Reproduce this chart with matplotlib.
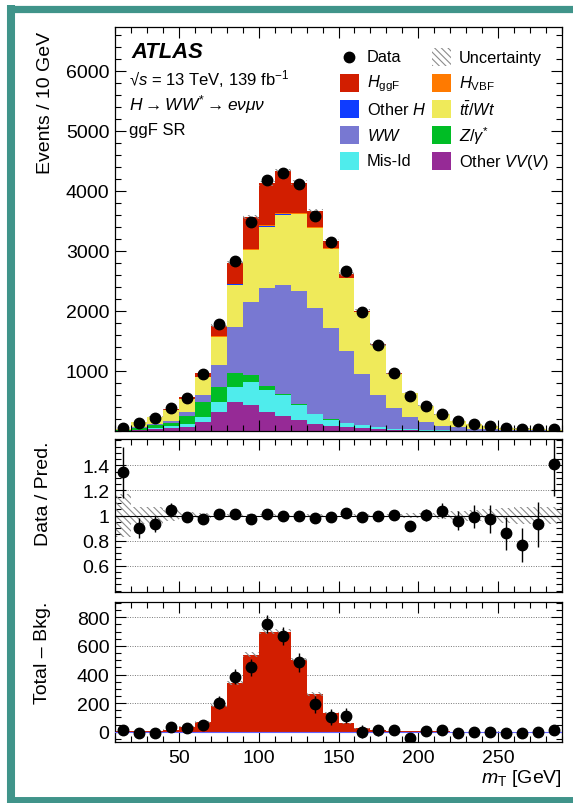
import numpy as np
import matplotlib
matplotlib.use('Agg')
import matplotlib.pyplot as plt
from matplotlib.ticker import MultipleLocator
from matplotlib.patches import Rectangle
from matplotlib.lines import Line2D

plt.rcParams['font.family'] = ['Liberation Sans', 'DejaVu Sans']
plt.rcParams['mathtext.fontset'] = 'custom'
plt.rcParams['mathtext.rm'] = 'Liberation Sans'
plt.rcParams['mathtext.it'] = 'Liberation Sans:italic'
plt.rcParams['mathtext.bf'] = 'Liberation Sans:bold'
plt.rcParams['hatch.linewidth'] = 0.8

# m_T binning, 10 GeV per bin
bin_edges = np.arange(10, 300, 10)

# expected yields per bin (stacked bottom -> top)
other_vv = [4, 10, 30, 44, 61, 156, 322, 478, 433, 322, 256, 189, 117, 89, 61, 42, 28, 18, 12, 8, 5, 4, 3, 2, 1, 1, 1, 1]
mis_id = [3, 10, 26, 34, 50, 83, 156, 261, 378, 367, 350, 244, 166, 100, 72, 58, 33, 22, 13, 7, 5, 2, 1, 1, 1, 1, 0, 0]
z_gamma = [11, 35, 44, 55, 145, 239, 250, 222, 122, 55, 11, 11, 7, 5, 3, 2, 1, 1, 1, 1, 0, 0, 0, 0, 0, 0, 0, 0]
ww = [4, 15, 22, 39, 66, 128, 372, 778, 1211, 1634, 1822, 1895, 1754, 1523, 1197, 854, 543, 344, 202, 140, 79, 55, 36, 22, 15, 12, 9, 7]
top = [8, 74, 106, 173, 203, 288, 467, 701, 866, 1022, 1161, 1271, 1336, 1313, 1212, 1019, 820, 565, 402, 259, 187, 109, 80, 53, 33, 28, 19, 14]
other_h = [0, 0, 1, 1, 1, 2, 4, 7, 10, 12, 12, 10, 8, 6, 4, 3, 2, 1, 1, 0, 0, 0, 0, 0, 0, 0, 0, 0]
h_vbf = [0, 0, 0, 1, 1, 2, 4, 7, 10, 14, 15, 13, 10, 7, 5, 3, 2, 1, 1, 0.5, 0, 0, 0, 0, 0, 0, 0, 0]
h_ggf = [2, 3, 6, 15, 35, 70, 181, 341, 538, 700, 700, 499, 264, 128, 58, 23, 12, 8, 4, 3, 2, 1, 1, 1, 0, 0, 0, 0]

data = [43, 132, 219, 378, 556, 943, 1779, 2838, 3482, 4180, 4296, 4118, 3589, 3143, 2665, 1980, 1440, 967, 585, 421, 289, 164, 120, 77, 43, 32, 27, 31]

# relative total uncertainty on the prediction, and abs. uncertainty on ggF
rel_unc = [0.17, 0.07, 0.065, 0.045, 0.025, 0.02, 0.015, 0.012, 0.01, 0.01, 0.01, 0.01, 0.01, 0.01, 0.012, 0.012, 0.015, 0.015, 0.02, 0.02, 0.025, 0.035, 0.045, 0.055, 0.06, 0.065, 0.07, 0.07]
ggf_unc = [0, 0, 1, 2, 3, 6, 10, 14, 16, 16, 16, 14, 11, 8, 5, 3, 2, 1, 1, 1, 0, 0, 0, 0, 0, 0, 0, 0]

main_yticks = [1000, 2000, 3000, 4000, 5000, 6000]
ratio_yticks = [0.6, 0.8, 1.0, 1.2, 1.4]
ratio_ylabels = ['0.6', '0.8', '1', '1.2', '1.4']
diff_yticks = [0, 200, 400, 600, 800]

c_vv, c_misid, c_z, c_ww = '#962a96', '#4fecec', '#00bd25', '#7878d2'
c_top, c_oh, c_vbf, c_ggf = '#efea5a', '#0f3cff', '#ff7a00', '#d21e00'
layers = [other_vv, mis_id, z_gamma, ww, top, other_h, h_vbf, h_ggf]
colors = [c_vv, c_misid, c_z, c_ww, c_top, c_oh, c_vbf, c_ggf]

data = np.array(data, dtype=float)
rel_unc = np.array(rel_unc)
ggf_unc = np.array(ggf_unc, dtype=float)
h_ggf_arr = np.array(h_ggf, dtype=float)
centers = bin_edges[:-1] + 5
hatch = '\\\\\\\\\\'
hatch_col = '#8c8c8c'

W, H = 573, 804
fig = plt.figure(figsize=(W / 100, H / 100), dpi=100)
ax_main = fig.add_axes([115 / W, 1 - 432 / H, 447 / W, 404 / H])
ax_ratio = fig.add_axes([115 / W, 1 - 593 / H, 447 / W, 153 / H])
ax_diff = fig.add_axes([115 / W, 1 - 743 / H, 447 / W, 140 / H])

# --- stacked prediction
base = np.zeros(len(data))
for vals, c in zip(layers, colors):
    vals = np.array(vals, dtype=float)
    ax_main.stairs(base + vals, bin_edges, baseline=base.copy(), fill=True, color=c, lw=0)
    base = base + vals
total = base

unc = rel_unc * total
ax_main.bar(centers, 2 * unc, bottom=total - unc, width=10, fill=False, hatch=hatch,
            edgecolor=hatch_col, lw=0, zorder=3)
ax_main.errorbar(centers, data, yerr=np.sqrt(data), fmt='o', color='k', ms=7.5,
                 elinewidth=1, capsize=0, zorder=5)
ax_main.set_ylim(0, 6730)
ax_main.set_yticks(main_yticks)
ax_main.yaxis.set_minor_locator(MultipleLocator(200))
ax_main.set_ylabel('Events / 10 GeV', fontsize=14, loc='top')
ax_main.yaxis.set_label_coords(-0.136, 0.99)

# --- data / prediction
ratio = data / total
ax_ratio.bar(centers, 2 * rel_unc, bottom=1 - rel_unc, width=10, fill=False, hatch=hatch,
             edgecolor=hatch_col, lw=0, zorder=2)
for y in [0.6, 0.8, 1.2, 1.4]:
    ax_ratio.axhline(y, color='#777777', ls=(0, (1, 1.5)), lw=0.7, zorder=1)
ax_ratio.axhline(1, color='k', lw=0.8, zorder=3)
ax_ratio.errorbar(centers, ratio, yerr=np.sqrt(data) / total, fmt='o', color='k', ms=7.5,
                  elinewidth=1, capsize=0, zorder=5)
ax_ratio.set_ylim(0.39, 1.61)
ax_ratio.set_yticks(ratio_yticks)
ax_ratio.set_yticklabels(ratio_ylabels)
ax_ratio.yaxis.set_minor_locator(MultipleLocator(0.05))
ax_ratio.set_ylabel('Data / Pred.', fontsize=14, loc='top')
ax_ratio.yaxis.set_label_coords(-0.141, 0.99)

# --- data minus background vs. ggF signal
diff = data - (total - h_ggf_arr)
ax_diff.stairs(h_ggf_arr, bin_edges, fill=True, color=c_ggf, lw=0, zorder=2)
ax_diff.bar(centers, 2 * ggf_unc, bottom=h_ggf_arr - ggf_unc, width=10, fill=False, hatch=hatch,
            edgecolor=hatch_col, lw=0, zorder=3)
for y in [200, 400, 600, 800]:
    ax_diff.axhline(y, color='#777777', ls=(0, (1, 1.5)), lw=0.7, zorder=1)
ax_diff.axhline(0, color='#6464ff', lw=0.8, zorder=3)
ax_diff.errorbar(centers, diff, yerr=np.sqrt(data), fmt='o', color='k', ms=7.5,
                 elinewidth=1, capsize=0, zorder=5)
ax_diff.set_ylim(-72, 907)
ax_diff.set_yticks(diff_yticks)
ax_diff.yaxis.set_minor_locator(MultipleLocator(50))
ax_diff.set_ylabel('Total – Bkg.', fontsize=14, loc='top')
ax_diff.yaxis.set_label_coords(-0.143, 1.01)
ax_diff.set_xlabel(r'$m_{\rm T}$ [GeV]', fontsize=14, loc='right', labelpad=1)

for ax in (ax_main, ax_ratio, ax_diff):
    ax.set_xlim(10, 290)
    ax.xaxis.set_major_locator(MultipleLocator(50))
    ax.xaxis.set_minor_locator(MultipleLocator(10))
    ax.tick_params(which='both', direction='in', top=True, right=True, labelsize=14, width=0.8)
    ax.tick_params(which='major', length=8)
    ax.tick_params(which='minor', length=4)
    ax.tick_params(axis='y', pad=4)
    ax.tick_params(axis='x', pad=5)
    for s in ax.spines.values():
        s.set_linewidth(0.9)
ax_main.tick_params(labelbottom=False)
ax_ratio.tick_params(labelbottom=False)

# --- labels on the main panel
fx = lambda px: px / W
fy = lambda py: 1 - py / H
fig.text(fx(131), fy(52), 'ATLAS', fontsize=15.8, fontweight='bold', style='italic', va='center')
fig.text(fx(129), fy(79), '√$s$ = 13 TeV, 139 fb$^{-1}$', fontsize=12, va='center')
fig.text(fx(129), fy(105), r'$H\rightarrow WW^{*}\rightarrow e\nu\mu\nu$', fontsize=12.5, va='center')
fig.text(fx(129), fy(131), 'ggF SR', fontsize=12, va='center')

# --- legend, two columns
legend_items = [
    ('Data', 'data'), ('Uncertainty', 'unc'),
    (r'$H_{\rm ggF}$', c_ggf), (r'$H_{\rm VBF}$', c_vbf),
    (r'Other $H$', c_oh), (r'$t\bar{t}/Wt$', c_top),
    (r'$WW$', c_ww), (r'$Z/\gamma^{*}$', c_z),
    ('Mis-Id', c_misid), (r'Other $VV(V)$', c_vv),
]
col_x = [340, 432]
row_y = [58, 84, 110, 136, 162]
for i, (label, kind) in enumerate(legend_items):
    px, py = col_x[i % 2], row_y[i // 2]
    if kind == 'data':
        fig.add_artist(Line2D([fx(px + 9.5)], [fy(py)], marker='o', color='k', ms=7.5,
                              transform=fig.transFigure))
    elif kind == 'unc':
        fig.add_artist(Rectangle((fx(px), fy(py + 9)), 19 / W, 18 / H, transform=fig.transFigure,
                                 fill=False, hatch=hatch, edgecolor=hatch_col, lw=0))
    else:
        fig.add_artist(Rectangle((fx(px), fy(py + 9)), 19 / W, 18 / H, transform=fig.transFigure,
                                 facecolor=kind, edgecolor='none'))
    fig.text(fx(px + 27), fy(py), label, fontsize=11.8, va='center')

# teal frame (left, top and bottom edges)
frame_col = '#40948a'
fig.add_artist(Line2D([fx(11), fx(11)], [fy(6), fy(804)], color=frame_col, lw=5.8,
                      transform=fig.transFigure, solid_capstyle='butt'))
fig.add_artist(Line2D([fx(7), 1.0], [fy(9.7), fy(9.7)], color=frame_col, lw=5.2,
                      transform=fig.transFigure, solid_capstyle='butt'))
fig.add_artist(Line2D([fx(7), 1.0], [fy(800.5), fy(800.5)], color=frame_col, lw=5.0,
                      transform=fig.transFigure, solid_capstyle='butt'))

fig.savefig('out.png', dpi=100)
